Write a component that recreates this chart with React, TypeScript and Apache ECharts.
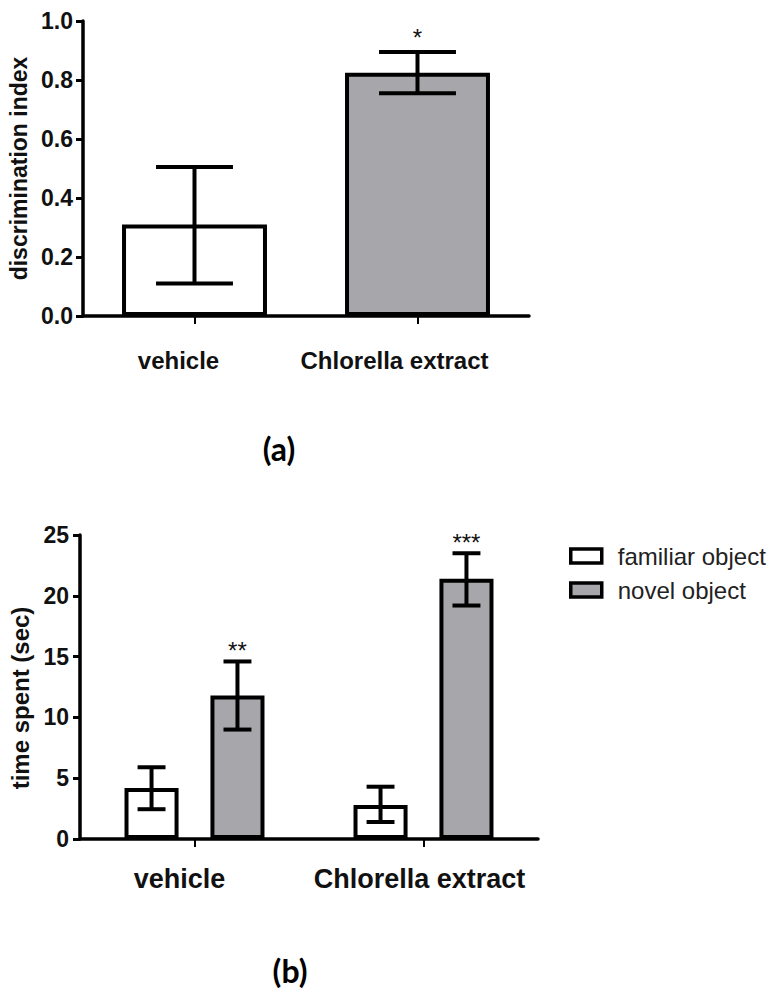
import React, { useEffect, useRef } from "react";
import * as echarts from "echarts";

// ---------- data ----------
const categories = ["vehicle", "Chlorella extract"];

// panel (a): discrimination index
const aMeans = [0.31, 0.825];
const aLow = [0.11, 0.755];
const aHigh = [0.505, 0.895];
const aStars = ["", "*"];
const aTickMin = 0;
const aTickMax = 1;
const aTickStep = 0.2;

// panel (b): time spent
const bSeriesNames = ["familiar object", "novel object"];
const bFamiliarMeans = [4.2, 2.8];
const bFamiliarLow = [2.45, 1.4];
const bFamiliarHigh = [5.9, 4.3];
const bFamiliarStars = ["", ""];
const bNovelMeans = [11.8, 21.4];
const bNovelLow = [9.0, 19.2];
const bNovelHigh = [14.6, 23.5];
const bNovelStars = ["**", "***"];
const bTickMin = 0;
const bTickMax = 25;
const bTickStep = 5;

// ---------- styles ----------
const FONT = "'Liberation Sans', Arial, sans-serif";
const WHITE = "#ffffff";
const GRAY = "#a7a6ab";
const INK = "#111111";

function errorSeries(
  xAxisIndex: number,
  yAxisIndex: number,
  low: number[],
  high: number[],
  stars: string[],
  offsetFrac: number,
  capFrac: number,
  starFont: number,
  starLift: number
) {
  return {
    type: "custom",
    xAxisIndex,
    yAxisIndex,
    z: 5,
    silent: true,
    encode: { x: 0, y: [1, 2] },
    data: low.map((lo, i) => [i, lo, high[i]]),
    renderItem: (params: any, api: any) => {
      const idx = api.value(0);
      const lo = api.value(1);
      const hi = api.value(2);
      const band = api.size([1, 0])[0];
      const pLo = api.coord([idx, lo]);
      const pHi = api.coord([idx, hi]);
      const x = pLo[0] + band * offsetFrac;
      const half = (band * capFrac) / 2;
      const style = { stroke: "#000", lineWidth: 4 };
      const children: any[] = [
        { type: "line", shape: { x1: x, y1: pLo[1], x2: x, y2: pHi[1] }, style },
        { type: "line", shape: { x1: x - half, y1: pHi[1], x2: x + half, y2: pHi[1] }, style },
        { type: "line", shape: { x1: x - half, y1: pLo[1], x2: x + half, y2: pLo[1] }, style },
      ];
      const s = stars[params.dataIndex];
      if (s) {
        children.push({
          type: "text",
          style: {
            text: s,
            x,
            y: pHi[1] - starLift,
            align: "center",
            verticalAlign: "middle",
            fontSize: starFont,
            fontFamily: FONT,
            fill: INK,
          },
        });
      }
      return { type: "group", children };
    },
  };
}

function xAxisCfg(gridIndex: number, fontSize: number, margin: number, shifts: number[]) {
  const rich: any = {};
  shifts.forEach((s, i) => {
    rich["l" + i] = {
      fontSize,
      fontWeight: "bold",
      fontFamily: FONT,
      color: INK,
      padding: [0, s, 0, 0],
    };
  });
  return {
    gridIndex,
    type: "category",
    data: categories,
    axisLine: { show: true, lineStyle: { color: "#000", width: 3.5 } },
    axisTick: { show: true, alignWithLabel: true, length: 8, lineStyle: { color: "#000", width: 2 } },
    splitLine: { show: false },
    axisLabel: {
      interval: 0,
      margin,
      formatter: (v: string, i: number) => `{l${i}|${v}}`,
      rich,
    },
  };
}

function yAxisCfg(
  gridIndex: number,
  min: number,
  max: number,
  step: number,
  digits: number,
  name: string,
  nameGap: number,
  nameSize: number,
  namePad: number[],
  labelMargin: number
) {
  return {
    gridIndex,
    type: "value",
    min,
    max,
    interval: step,
    axisLine: { show: true, lineStyle: { color: "#000", width: 3.5 } },
    axisTick: { show: true, length: 7, lineStyle: { color: "#000", width: 3 } },
    splitLine: { show: false },
    axisLabel: {
      margin: labelMargin,
      formatter: (v: number) => v.toFixed(digits),
      fontSize: 23,
      fontWeight: "bold",
      fontFamily: FONT,
      color: INK,
    },
    name,
    nameLocation: "middle",
    nameRotate: 90,
    nameGap,
    nameTextStyle: {
      fontSize: nameSize,
      fontWeight: "bold",
      fontFamily: FONT,
      color: INK,
      padding: namePad,
    },
  };
}

export default function App() {
  const ref = useRef<HTMLDivElement>(null);

  useEffect(() => {
    document.body.style.margin = "0";
    if (!ref.current) return;
    const chart = echarts.init(ref.current, null, { renderer: "svg" });

    const aFills = [WHITE, GRAY];
    const aBarFrac = 0.65;
    const aCapFrac = 0.345;

    const bBarFrac = 0.236;
    const bGapFrac = 0.59;
    const bOffset = (bBarFrac * (1 + bGapFrac)) / 2;
    const bCapFrac = 0.122;

    const option: any = {
      animation: false,
      backgroundColor: "#ffffff",
      grid: [
        { left: 83, top: 21, width: 446, height: 295, outerBoundsMode: "none", containLabel: false },
        { left: 80, top: 535, width: 458, height: 304, outerBoundsMode: "none", containLabel: false },
      ],
      legend: {
        data: bSeriesNames,
        orient: "vertical",
        left: 569,
        top: 544,
        padding: 0,
        itemWidth: 31,
        itemHeight: 14,
        itemGap: 10,
        icon: "rect",
        itemStyle: { borderColor: "#000", borderWidth: 3.5 },
        textStyle: { fontSize: 24, color: "#222", fontFamily: FONT, padding: [0, 0, 0, 11] },
      },
      xAxis: [xAxisCfg(0, 24, 32, [32, 46]), xAxisCfg(1, 27, 26, [30, 8])],
      yAxis: [
        yAxisCfg(0, aTickMin, aTickMax, aTickStep, 1, "discrimination index", 53, 23, [0, 0, 0, 0], 10),
        yAxisCfg(1, bTickMin, bTickMax, bTickStep, 0, "time spent (sec)", 47, 24, [0, 22, 0, 0], 11),
      ],
      series: [
        {
          type: "bar",
          xAxisIndex: 0,
          yAxisIndex: 0,
          barWidth: aBarFrac * 100 + "%",
          data: aMeans.map((v, i) => ({ value: v, itemStyle: { color: aFills[i] } })),
          itemStyle: { borderColor: "#000", borderWidth: 4 },
          z: 2,
        },
        errorSeries(0, 0, aLow, aHigh, aStars, 0, aCapFrac, 24, 14),
        {
          type: "bar",
          name: bSeriesNames[0],
          xAxisIndex: 1,
          yAxisIndex: 1,
          barWidth: bBarFrac * 100 + "%",
          barGap: bGapFrac * 100 + "%",
          data: bFamiliarMeans,
          itemStyle: { color: WHITE, borderColor: "#000", borderWidth: 4 },
          z: 2,
        },
        {
          type: "bar",
          name: bSeriesNames[1],
          xAxisIndex: 1,
          yAxisIndex: 1,
          barWidth: bBarFrac * 100 + "%",
          barGap: bGapFrac * 100 + "%",
          data: bNovelMeans,
          itemStyle: { color: GRAY, borderColor: "#000", borderWidth: 4 },
          z: 2,
        },
        errorSeries(1, 1, bFamiliarLow, bFamiliarHigh, bFamiliarStars, -bOffset, bCapFrac, 24, 11),
        errorSeries(1, 1, bNovelLow, bNovelHigh, bNovelStars, bOffset, bCapFrac, 24, 11),
      ],
      graphic: [
        {
          type: "text",
          x: 279,
          y: 448,
          style: {
            text: "(a)",
            align: "center",
            verticalAlign: "middle",
            fontSize: 32,
            fontWeight: "bold",
            fontFamily: "Lato, 'Open Sans', sans-serif",
            fill: "#000",
          },
        },
        {
          type: "text",
          x: 290,
          y: 970,
          style: {
            text: "(b)",
            align: "center",
            verticalAlign: "middle",
            fontSize: 32,
            fontWeight: "bold",
            fontFamily: "Lato, 'Open Sans', sans-serif",
            fill: "#000",
          },
        },
      ],
    };

    chart.setOption(option);
    return () => chart.dispose();
  }, []);

  return <div ref={ref} style={{ width: 780, height: 999 }} />;
}
